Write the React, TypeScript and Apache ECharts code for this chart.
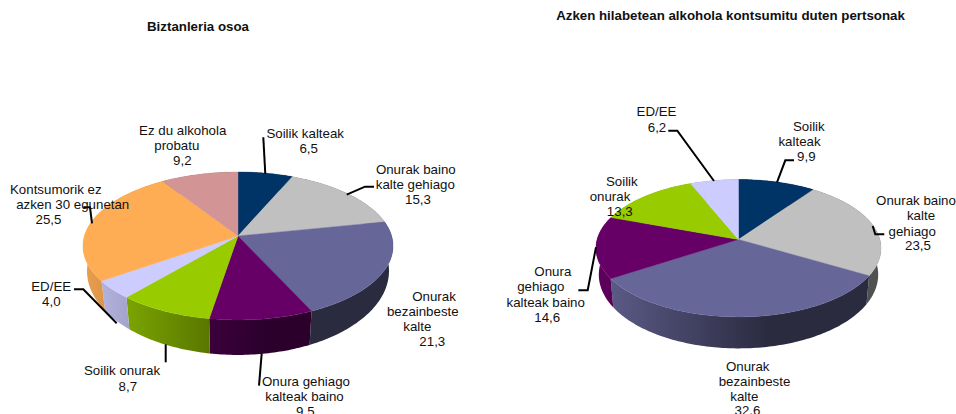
import React, { useEffect, useRef } from "react";
import * as echarts from "echarts";

const leftTitle = "Biztanleria osoa";
const rightTitle = "Azken hilabetean alkohola kontsumitu duten pertsonak";

const leftCategories = ["Soilik kalteak", "Onurak baino kalte gehiago", "Onurak bezainbeste kalte", "Onura gehiago kalteak baino", "Soilik onurak", "ED/EE", "Kontsumorik ez azken 30 egunetan", "Ez du alkohola probatu"];
const leftValues = [6.5, 15.3, 21.3, 9.5, 8.7, 4.0, 25.5, 9.2];
const leftColors = ["#003366", "#C0C0C0", "#666699", "#660066", "#99CC00", "#CCCCFF", "#FFAD55", "#D29494"];

const rightCategories = ["Soilik kalteak", "Onurak baino kalte gehiago", "Onurak bezainbeste kalte", "Onura gehiago kalteak baino", "Soilik onurak", "ED/EE"];
const rightValues = [9.9, 23.5, 32.6, 14.6, 13.3, 6.2];
const rightColors = ["#003366", "#C0C0C0", "#666699", "#660066", "#99CC00", "#CCCCFF"];

// Perspective disc geometry: apex, homography scale and perspective strength
const leftGeom = { cx: 238, cy: 236, a: 153.6, b: 72.6, p: 0.135, midY: 246, baseDepth: 25, extraDepth: 10, span: 74, shrink: 0.026 };
const rightGeom = { cx: 738.5, cy: 239.5, a: 141.4, b: 67.6, p: 0.1266, midY: 248, baseDepth: 26.5, extraDepth: 5, span: 69, shrink: 0.02 };

type Geom = typeof leftGeom;
type Line = [string, number, number];

const num = (v: number) => v.toFixed(1).replace(".", ",");

// [text, centre x, centre y]
const leftLabels: Line[] = [
  ["Soilik kalteak", 305.2, 133.3], [num(leftValues[0]), 308.7, 148.3],
  ["Onurak baino", 415.8, 169], ["kalte gehiago", 415.3, 184], [num(leftValues[1]), 418, 199],
  ["Onurak", 434, 296.7], ["bezainbeste", 422.8, 311.7], ["kalte", 417.3, 326.7], [num(leftValues[2]), 432.3, 341.7],
  ["Onura gehiago", 306, 381.7], ["kalteak baino", 304.5, 396.7], [num(leftValues[3]), 305.3, 411.7],
  ["Soilik onurak", 122, 370.7], [num(leftValues[4]), 127.8, 386],
  ["ED/EE", 51.2, 286.7], [num(leftValues[5]), 51.3, 301.7],
  ["Kontsumorik ez", 55.8, 189], ["azken 30 egunetan", 72.7, 204], [num(leftValues[6]), 48.5, 219],
  ["Ez du alkohola", 182.7, 130.7], ["probatu", 176.8, 145.7], [num(leftValues[7]), 182.3, 160.7],
];
const rightLabels: Line[] = [
  ["Soilik", 808.8, 126.7], ["kalteak", 799.5, 141.7], [num(rightValues[0]), 806.3, 156.7],
  ["Onurak baino", 916, 200.7], ["kalte", 921, 215.7], ["gehiago", 912.2, 231], [num(rightValues[1]), 918, 245.7],
  ["Onurak", 747.7, 366.7], ["bezainbeste", 754.5, 381.7], ["kalte", 744.3, 396.7], [num(rightValues[2]), 747.5, 410.5],
  ["Onura", 552.8, 271.7], ["gehiago", 540.8, 286.7], ["kalteak baino", 545.7, 302.7], [num(rightValues[3]), 547.2, 317.7],
  ["Soilik", 621.8, 181.7], ["onurak", 610, 196.7], [num(rightValues[4]), 619.8, 211.7],
  ["ED/EE", 656.5, 111.7], [num(rightValues[5]), 657, 127],
];

const leaders: number[][][] = [
  [[263.3, 137.3], [265.3, 174]],
  [[346.7, 194.7], [365, 186.7], [374, 186.7]],
  [[261.7, 353.3], [259, 385.7]],
  [[165.7, 344.3], [165.7, 362.3]],
  [[74, 289.3], [83.3, 289.3], [116.7, 323.3]],
  [[83.3, 207.3], [90, 207.3], [92, 223.3]],
  [[668.3, 130.7], [677.3, 130.7], [714, 181]],
  [[578.3, 290.3], [587.7, 290.3], [596, 247.3]],
  [[794, 160.3], [785.3, 160.3], [777, 182.3]],
  [[884.3, 234.3], [875.3, 234.3], [872.7, 226]],
];

const project = (g: Geom, deg: number) => {
  const t = (deg * Math.PI) / 180;
  const u = Math.sin(t);
  const v = Math.cos(t);
  const w = 1 + g.p * v;
  return [g.cx + (g.a * u) / w, g.cy - (g.b * v) / w];
};

const extrude = (g: Geom, pt: number[]) => [
  pt[0] + (g.cx - pt[0]) * g.shrink,
  pt[1] + g.baseDepth + (g.extraDepth * (pt[1] - g.midY)) / g.span,
];

const shade = (hex: string, f: number) => {
  const n = parseInt(hex.slice(1), 16);
  const c = [(n >> 16) & 255, (n >> 8) & 255, n & 255].map((x) => Math.round(x * f));
  return `rgb(${c[0]},${c[1]},${c[2]})`;
};

const arcPoints = (g: Geom, start: number, end: number) => {
  const pts: number[][] = [];
  const n = Math.max(2, Math.ceil(end - start));
  for (let i = 0; i <= n; i++) pts.push(project(g, start + ((end - start) * i) / n));
  return pts;
};

const pieSeries = (name: string, cats: string[], values: number[], colors: string[], g: Geom) => {
  const total = values.reduce((s, v) => s + v, 0);
  const range = (i: number) => {
    const before = values.slice(0, i).reduce((s, v) => s + v, 0);
    return [(before / total) * 360, ((before + values[i]) / total) * 360];
  };
  const data = values.map((v, i) => ({ name: cats[i], value: v }));
  const halfW = g.a / Math.sqrt(1 - g.p * g.p);
  const wall = {
    type: "custom",
    name: name + " side",
    coordinateSystem: "none",
    silent: true,
    z: 2,
    data,
    renderItem: (params: any) => {
      const i = params.dataIndex;
      const [s, e] = range(i);
      const top = arcPoints(g, s, e);
      const bottom = top.map((p) => extrude(g, p)).reverse();
      const c = colors[i];
      const fill = new echarts.graphic.LinearGradient(
        g.cx - halfW, 0, g.cx + halfW, 0,
        [
          { offset: 0, color: shade(c, 0.92) },
          { offset: 0.6, color: shade(c, 0.42) },
          { offset: 1, color: shade(c, 0.42) },
        ],
        true,
      );
      return { type: "polygon", shape: { points: top.concat(bottom) }, style: { fill } };
    },
  };
  const topFace = {
    type: "custom",
    name,
    coordinateSystem: "none",
    silent: true,
    z: 3,
    data,
    renderItem: (params: any) => {
      const i = params.dataIndex;
      const [s, e] = range(i);
      const pts = [[g.cx, g.cy], ...arcPoints(g, s, e)];
      return {
        type: "polygon",
        shape: { points: pts },
        style: { fill: colors[i], stroke: colors[i], lineWidth: 0.4 },
      };
    },
  };
  return [wall, topFace];
};

const font = "Arial, 'Liberation Sans', sans-serif";

const textEl = (text: string, x: number, y: number, bold = false) => ({
  type: "text",
  x,
  y,
  z: 60,
  style: {
    text,
    fill: "#111",
    font: `${bold ? "bold " : ""}13.3px ${font}`,
    align: "center",
    verticalAlign: "middle",
  },
});

export default function App() {
  const ref = useRef<HTMLDivElement>(null);
  useEffect(() => {
    document.body.style.margin = "0";
    document.body.style.overflow = "hidden";
    const chart = echarts.init(ref.current!, undefined, { renderer: "svg" });
    chart.setOption({
      animation: false,
      backgroundColor: "#ffffff",
      series: [
        ...pieSeries("Biztanleria osoa", leftCategories, leftValues, leftColors, leftGeom),
        ...pieSeries("Azken hilabetean", rightCategories, rightValues, rightColors, rightGeom),
      ],
      graphic: {
        elements: [
          ...leaders.map((points) => ({
            type: "polyline",
            z: 50,
            shape: { points },
            style: { stroke: "#000", lineWidth: 2, fill: "none" },
          })),
          textEl(leftTitle, 198, 26, true),
          textEl(rightTitle, 730.5, 15, true),
          ...leftLabels.map(([t, x, y]) => textEl(t, x, y)),
          ...rightLabels.map(([t, x, y]) => textEl(t, x, y)),
        ],
      },
    } as any);
    return () => chart.dispose();
  }, []);
  return <div ref={ref} style={{ width: 956, height: 414 }} />;
}
